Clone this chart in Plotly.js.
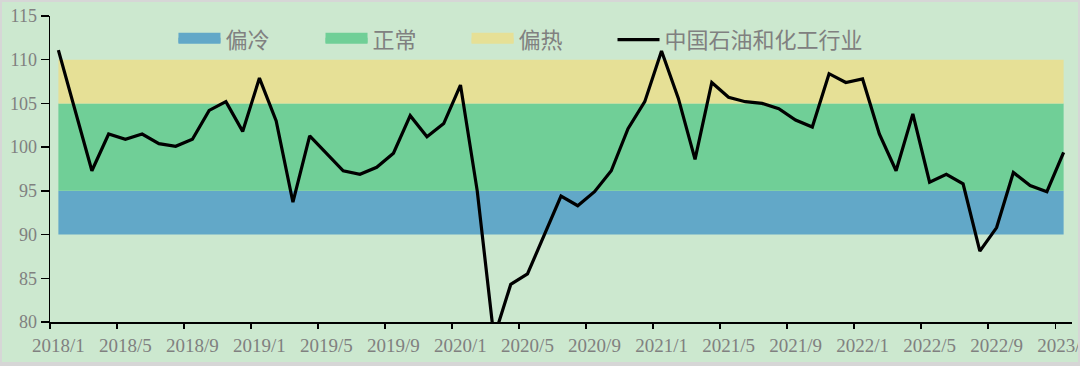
<!DOCTYPE html>
<html>
<head>
<meta charset="utf-8">
<script src="https://cdn.plot.ly/plotly-3.0.1.min.js"></script>
<style>
  html, body { margin: 0; padding: 0; background: #cce8cf; }
  #wrap { position: relative; width: 1080px; height: 366px; }
  #chart { width: 1080px; height: 366px; }
  #frame { position: absolute; left: 0; top: 0; width: 1080px; height: 366px; box-sizing: border-box;
           border-top: 2px solid #d6d6d6; border-left: 2px solid #d6d6d6; border-right: 2px solid #d6d6d6;
           border-bottom: 4px solid #d6d6d6; pointer-events: none; }
</style>
</head>
<body>
<div id="wrap"><div id="chart"></div><div id="frame"></div></div>
<script>
// ---- data ----
const startYear = 2018, startMonth = 1, monthCount = 61;   // 2018/1 .. 2023/1
const months = [];
for (let i = 0; i < monthCount; i++) {
  const m = startMonth - 1 + i;
  months.push((startYear + Math.floor(m / 12)) + '/' + (m % 12 + 1));
}

// 中国石油和化工行业 index
const industryIndex = [
  111.1, 104.1, 97.3, 101.5, 100.9, 101.5, 100.4, 100.1, 100.9, 104.2,
  105.2, 101.8, 107.9, 103.0, 93.7, 101.3, 99.3, 97.3, 96.9, 97.7,
  99.3, 103.6, 101.2, 102.7, 107.1, 95.0, 78.2, 84.3, 85.5, 90.0,
  94.4, 93.3, 94.9, 97.3, 102.1, 105.2, 111.0, 105.6, 98.6, 107.4,
  105.7, 105.2, 105.0, 104.4, 103.1, 102.3, 108.4, 107.4, 107.8, 101.5,
  97.3, 103.8, 96.0, 96.9, 95.8, 88.1, 90.8, 97.1, 95.6, 94.9,
  99.4
];

const bandNames = ['偏冷', '正常', '偏热'];
const bandLower = [90, 95, 105];
const bandUpper = [95, 105, 110];
const bandColors = ['#62a8c8', '#70cf97', '#e6e096'];
const lineName = '中国石油和化工行业';

const yTicks = [80, 85, 90, 95, 100, 105, 110, 115];

// ---- traces ----
const legendIds = ['legend', 'legend2', 'legend3', 'legend4'];
const legendX = [0.1208, 0.2647, 0.4076, 0.5504];

const traces = [];
traces.push({
  x: months, y: months.map(() => bandLower[0]), type: 'scatter', mode: 'lines',
  line: { width: 0, color: 'rgba(0,0,0,0)' }, showlegend: false, hoverinfo: 'skip'
});
bandNames.forEach((name, k) => {
  traces.push({
    x: months, y: months.map(() => bandUpper[k]), type: 'scatter', mode: 'lines',
    fill: 'tonexty', fillcolor: bandColors[k], line: { width: 0, color: bandColors[k] },
    name: name, showlegend: false, hoverinfo: 'skip'
  });
});
bandNames.forEach((name, k) => {
  traces.push({
    x: [null], y: [null], type: 'scatter', mode: 'lines', fill: 'toself',
    fillcolor: bandColors[k], line: { width: 10, color: bandColors[k] },
    name: name, showlegend: true, legend: legendIds[k]
  });
});
traces.push({
  x: months, y: industryIndex, type: 'scatter', mode: 'lines',
  line: { color: '#000000', width: 3.2 }, name: lineName, legend: legendIds[3]
});

const legendFont = { family: 'Liberation Serif, "Noto Sans CJK SC", serif', size: 22, color: '#808080' };
function makeLegend(x) {
  return {
    orientation: 'h', x: x, xanchor: 'left', y: 0.922, yanchor: 'middle',
    bgcolor: 'rgba(0,0,0,0)', itemwidth: 42, font: legendFont,
    itemclick: false, itemdoubleclick: false
  };
}

const layout = {
  width: 1080, height: 366,
  margin: { l: 50, r: 8, t: 16, b: 44, pad: 0 },
  paper_bgcolor: 'rgba(0,0,0,0)', plot_bgcolor: 'rgba(0,0,0,0)',
  font: { family: 'Liberation Serif, "Noto Sans CJK SC", serif', color: '#808080', size: 18 },
  showlegend: true,
  xaxis: {
    type: 'category', range: [-0.5, monthCount - 0.5], tickmode: 'linear', tick0: 0, dtick: 4,
    tickson: 'boundaries', ticks: 'outside', ticklen: 5, tickwidth: 1.5, tickcolor: '#000',
    showline: true, linecolor: '#000', linewidth: 1.5, showgrid: false, zeroline: false,
    tickangle: 0, ticklabelstandoff: 6, tickfont: { size: 19, color: '#808080' }, fixedrange: true
  },
  yaxis: {
    range: [80, 115], tickmode: 'array', tickvals: yTicks, ticktext: yTicks.map(String),
    ticks: 'outside', ticklen: 8, tickwidth: 1.5, tickcolor: '#000',
    showline: true, linecolor: '#000', linewidth: 1.5, showgrid: false, zeroline: false,
    tickfont: { size: 18, color: '#808080' }, fixedrange: true
  }
};
legendIds.forEach((id, k) => { layout[id] = makeLegend(legendX[k]); });

Plotly.newPlot('chart', traces, layout, { displayModeBar: false, staticPlot: true });
</script>
</body>
</html>
